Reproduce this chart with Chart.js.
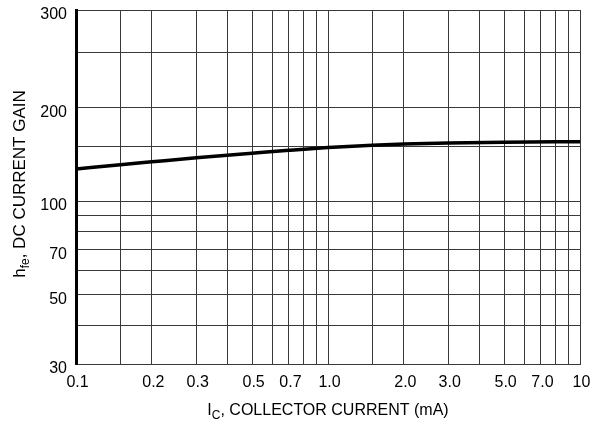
<!DOCTYPE html>
<html>
<head>
<meta charset="utf-8">
<script src="https://cdn.jsdelivr.net/npm/chart.js@4.4.1/dist/chart.umd.min.js"></script>
<style>
  html, body { margin: 0; padding: 0; background: #fff; }
  canvas { display: block; }
</style>
</head>
<body>
<canvas id="gainChart" width="592" height="423"></canvas>
<script>
// collector current (mA) and DC current gain
const currentMa = [0.1, 0.15, 0.2, 0.3, 0.5, 0.7, 1.0, 1.5, 2.0, 3.0, 5.0, 10];
const hfeGain = [126.7, 130.8, 133.6, 137.6, 142.3, 145.4, 148.4, 151, 152.3, 153.5, 154.4, 155];

// grid lines and tick labels
const xGridValues = [0.1, 0.15, 0.2, 0.3, 0.4, 0.5, 0.6, 0.7, 0.8, 0.9, 1, 1.5, 2, 3, 4, 5, 6, 7, 8, 9, 10];
const xLabelValues = [0.1, 0.2, 0.3, 0.5, 0.7, 1, 2, 3, 5, 7, 10];
const xLabelText = ['0.1', '0.2', '0.3', '0.5', '0.7', '1.0', '2.0', '3.0', '5.0', '7.0', '10'];
const yGridValues = [30, 40, 50, 60, 70, 80, 90, 100, 150, 200, 300, 410];
const yLabelValues = [30, 50, 70, 100, 200, 410];
const yLabelText = ['30', '50', '70', '100', '200', '300'];

const FONT = '"Liberation Sans", Arial, sans-serif';

function labelFor(values, texts, v) {
    const i = values.findIndex(x => Math.abs(x - v) < 1e-9);
    return i >= 0 ? texts[i] : '';
}

// no extra room for the edge labels, layout padding decides the plot area
function noPadding(scale) {
    scale.paddingTop = 0;
    scale.paddingBottom = 0;
    scale.paddingLeft = 0;
    scale.paddingRight = 0;
}

// axis titles with subscripts
const axisTitles = {
    id: 'axisTitles',
    afterDraw(chart) {
        const ctx = chart.ctx;
        const area = chart.chartArea;
        ctx.save();
        ctx.fillStyle = '#000';
        ctx.textBaseline = 'alphabetic';
        ctx.textAlign = 'left';

        function drawParts(parts, x, y, size) {
            let cx = x;
            parts.forEach(p => {
                ctx.font = (p.sub ? Math.round(size * 0.72) : size) + 'px ' + FONT;
                ctx.fillText(p.t, cx, y + (p.sub ? 4 : 0));
                cx += ctx.measureText(p.t).width;
            });
        }
        function width(parts, size) {
            let w = 0;
            parts.forEach(p => {
                ctx.font = (p.sub ? Math.round(size * 0.72) : size) + 'px ' + FONT;
                w += ctx.measureText(p.t).width;
            });
            return w;
        }

        const xParts = [{ t: 'I' }, { t: 'C', sub: true }, { t: ', COLLECTOR CURRENT (mA)' }];
        const xw = width(xParts, 16);
        drawParts(xParts, (area.left + area.right) / 2 - xw / 2, 415, 16);

        const yParts = [{ t: 'h' }, { t: 'fe', sub: true }, { t: ', DC CURRENT GAIN' }];
        const yw = width(yParts, 17);
        ctx.translate(25, 184);
        ctx.rotate(-Math.PI / 2);
        drawParts(yParts, -yw / 2, 0, 17);
        ctx.restore();
    }
};

const ctx = document.getElementById('gainChart').getContext('2d');
new Chart(ctx, {
    type: 'line',
    data: {
        datasets: [{
            data: currentMa.map((x, i) => ({ x: x, y: hfeGain[i] })),
            borderColor: '#000',
            borderWidth: 3.5,
            pointRadius: 0,
            cubicInterpolationMode: 'monotone',
            fill: false
        }]
    },
    options: {
        responsive: false,
        animation: false,
        layout: { padding: { left: 0, right: 12, top: 10, bottom: 0 } },
        plugins: {
            legend: { display: false },
            tooltip: { enabled: false }
        },
        scales: {
            x: {
                type: 'logarithmic',
                min: 0.1,
                max: 10,
                afterBuildTicks: scale => { scale.ticks = xGridValues.map(v => ({ value: v })); },
                afterFit: scale => { scale.height = 59; noPadding(scale); },
                grid: { color: '#3a3a3a', lineWidth: 1, drawTicks: false },
                border: { color: '#3a3a3a', width: 1 },
                ticks: {
                    autoSkip: false,
                    maxRotation: 0,
                    padding: 9,
                    labelOffset: 1.5,
                    color: '#000',
                    font: { family: FONT, size: 16 },
                    callback: v => labelFor(xLabelValues, xLabelText, v)
                }
            },
            y: {
                type: 'logarithmic',
                min: 30,
                max: 410,
                afterBuildTicks: scale => { scale.ticks = yGridValues.map(v => ({ value: v })); },
                afterFit: scale => { scale.width = 76; noPadding(scale); },
                grid: { color: '#3a3a3a', lineWidth: 1, drawTicks: false },
                border: { color: '#000', width: 3 },
                ticks: {
                    autoSkip: false,
                    padding: 9,
                    labelOffset: 5,
                    color: '#000',
                    font: { family: FONT, size: 16 },
                    callback: v => labelFor(yLabelValues, yLabelText, v)
                }
            }
        }
    },
    plugins: [axisTitles]
});
</script>
</body>
</html>
